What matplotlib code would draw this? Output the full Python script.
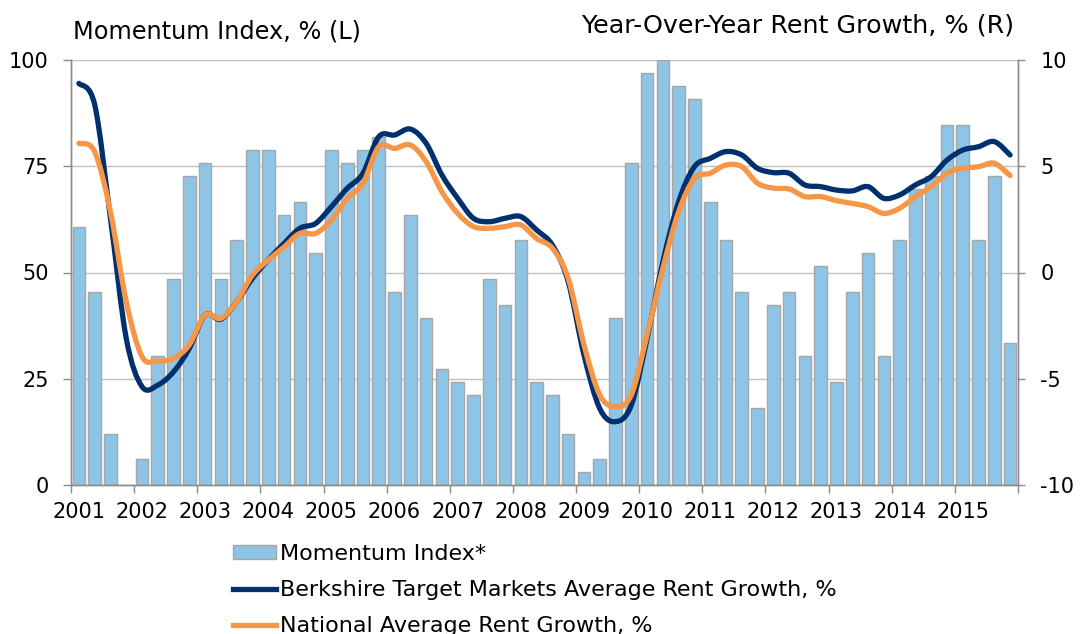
"""
Momentum index (bars, left axis) vs. year-over-year rent growth (lines, right axis)
"""

import matplotlib
matplotlib.use('Agg')
import matplotlib.pyplot as plt
from matplotlib.path import Path
from matplotlib.patches import PathPatch, Patch
from matplotlib.lines import Line2D
import numpy as np

# quarterly, 2001 Q1 .. 2015 Q4
YEARS = list(range(2001, 2016))

MOMENTUM = [60.6, 45.5, 12.1, 0.0, 6.1, 30.3, 48.5, 72.7, 75.8, 48.5,
            57.6, 78.8, 78.8, 63.6, 66.7, 54.5, 78.8, 75.8, 78.8, 81.8,
            45.5, 63.6, 39.4, 27.3, 24.2, 21.2, 48.5, 42.4, 57.6, 24.2,
            21.2, 12.1, 3.0, 6.1, 39.4, 75.8, 97.0, 100.0, 93.9, 90.9,
            66.7, 57.6, 45.5, 18.2, 42.4, 45.5, 30.3, 51.5, 24.2, 45.5,
            54.5, 30.3, 57.6, 69.7, 72.7, 84.8, 84.8, 57.6, 72.7, 33.3]

BERKSHIRE = [8.9, 7.9, 2.55, -3.1, -5.37, -5.3, -4.67, -3.57, -2.0, -2.2,
             -1.37, -0.27, 0.6, 1.37, 2.08, 2.31, 3.1, 3.96, 4.67, 6.39,
             6.47, 6.75, 6.08, 4.59, 3.49, 2.55, 2.39, 2.55, 2.63, 2.0,
             1.29, -0.43, -3.88, -6.4, -7.02, -6.24, -3.1, 0.5, 3.33, 4.98,
             5.37, 5.69, 5.53, 4.9, 4.7, 4.67, 4.12, 4.04, 3.88, 3.84,
             4.04, 3.49, 3.65, 4.12, 4.51, 5.29, 5.76, 5.92, 6.16, 5.53]

NATIONAL = [6.08, 5.69, 2.86, -1.37, -3.96, -4.16, -4.04, -3.4, -2.0, -2.16,
            -1.37, -0.12, 0.59, 1.2, 1.84, 1.84, 2.47, 3.49, 4.2, 5.92,
            5.84, 6.0, 5.22, 3.8, 2.78, 2.16, 2.08, 2.16, 2.24, 1.6,
            1.14, -0.27, -3.4, -5.76, -6.31, -5.76, -2.94, 0.2, 2.86, 4.43,
            4.67, 5.06, 4.98, 4.2, 3.97, 3.93, 3.57, 3.57, 3.38, 3.25,
            3.1, 2.78, 3.02, 3.57, 4.04, 4.67, 4.9, 4.98, 5.14, 4.56]

BAR_COLOR = '#8EC5E6'
BAR_EDGE = '#A6A6A6'
NAVY = '#00306E'
ORANGE = '#F79646'
GRID = '#C0C0C0'
AXIS = '#8C8C8C'
FS = 15


def smooth_path(x, y):
    # Excel-style smoothed line: cubic bezier through every point
    pts = np.column_stack([x, y]).astype(float)
    n = len(pts)
    verts = [pts[0]]
    codes = [Path.MOVETO]
    for i in range(n - 1):
        p0 = pts[max(i - 1, 0)]
        p1 = pts[i]
        p2 = pts[i + 1]
        p3 = pts[min(i + 2, n - 1)]
        verts += [p1 + (p2 - p0) / 6.0, p2 - (p3 - p1) / 6.0, p2]
        codes += [Path.CURVE4] * 3
    return Path(verts, codes)


plt.rcParams['font.family'] = ['DejaVu Sans']
plt.rcParams['axes.unicode_minus'] = False

fig = plt.figure(figsize=(10.81, 6.34), dpi=100)
ax = fig.add_axes([71 / 1081, 1 - 485 / 634, 947 / 1081, 425 / 634])
ax2 = ax.twinx()

x = np.arange(len(MOMENTUM))
ax.bar(x, MOMENTUM, width=0.8, color=BAR_COLOR, edgecolor=BAR_EDGE,
       linewidth=1.0, zorder=2)

for yv in (25, 50, 75, 100):
    ax.axhline(yv, color=GRID, linewidth=1.0, zorder=1)

ax.set_xlim(-0.5, len(MOMENTUM) - 0.5)
ax.set_ylim(0, 100)
ax.set_yticks([0, 25, 50, 75, 100])
ax2.set_ylim(-10, 10)
ax2.set_yticks([-10, -5, 0, 5, 10])

# year ticks at boundaries, labels under the first quarter of each year
ax.set_xticks([-0.5 + 4 * k for k in range(len(YEARS) + 1)])
ax.set_xticklabels([])
ax.set_xticks([4 * k for k in range(len(YEARS))], minor=True)
ax.set_xticklabels([str(yr) for yr in YEARS], minor=True)
ax.tick_params(axis='x', which='major', length=5.5, width=1, color=AXIS,
               direction='out')
ax.tick_params(axis='x', which='minor', length=0, pad=12.5, labelsize=FS)
ax.tick_params(axis='y', length=6, width=1, color=AXIS, labelsize=FS, pad=10)
ax2.tick_params(axis='y', length=5, width=1, color=AXIS, labelsize=FS, pad=11)

for a in (ax, ax2):
    a.spines['top'].set_visible(False)
    for side in ('left', 'right', 'bottom'):
        a.spines[side].set_color(AXIS)
        a.spines[side].set_linewidth(1.0)

for series, color in ((BERKSHIRE, NAVY), (NATIONAL, ORANGE)):
    ax2.add_patch(PathPatch(smooth_path(x, series), facecolor='none',
                            edgecolor=color, linewidth=3.8,
                            capstyle='round', joinstyle='round', zorder=3))

fig.text(73 / 1081, 1 - 31 / 634, 'Momentum Index, % (L)', fontsize=17.3,
         ha='left', va='center')
fig.text(1014 / 1081, 1 - 26 / 634, 'Year-Over-Year Rent Growth, % (R)',
         fontsize=18.3, ha='right', va='center')

handles = [Patch(facecolor=BAR_COLOR, edgecolor=BAR_EDGE, linewidth=1.0),
           Line2D([], [], color=NAVY, linewidth=3.8),
           Line2D([], [], color=ORANGE, linewidth=3.8)]
labels = ['Momentum Index*',
          'Berkshire Target Markets Average Rent Growth, %',
          'National Average Rent Growth, %']
fig.legend(handles, labels, loc='upper left',
           bbox_to_anchor=(222 / 1081, 1 - 533 / 634), frameon=False,
           fontsize=16, handlelength=1.95, handleheight=0.6,
           handletextpad=0.18, labelspacing=0.72, borderpad=0.0)

plt.savefig('out.png', dpi=100)
plt.close()
